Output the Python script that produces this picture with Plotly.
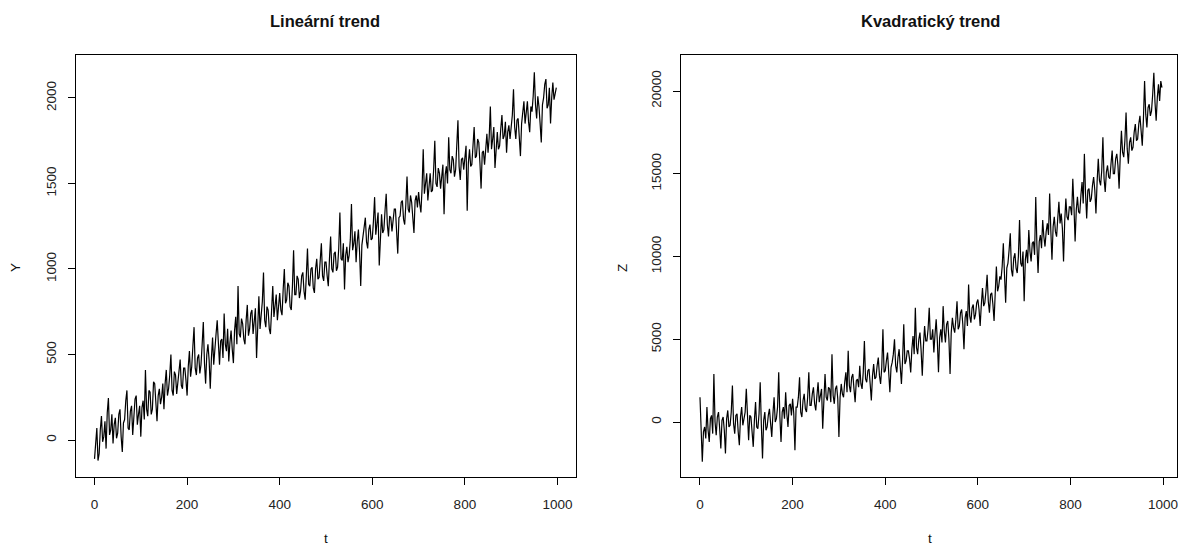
import plotly.graph_objects as go

# time index, step 2.5 over 0..997.5 (400 readings per series)
t = [i * 2.5 for i in range(400)]

# Linear trend series
Y = [
    -110, -40, 70, -120, -80, 60, 140, -10, 20, 110, -50, 160, 245, 30, 60, 150, -20, 90, 130, 10,
    40, 150, 180, 20, -70, 100, 120, 230, 290, 70, 60, 170, 200, 30, 110, 240, 260, 90, 150, 200,
    20, 190, 230, 120, 410, 180, 140, 290, 280, 150, 180, 340, 330, 200, 110, 260, 300, 210, 250, 330,
    180, 330, 410, 260, 300, 380, 500, 290, 260, 400, 380, 270, 340, 440, 470, 320, 300, 420, 420, 350,
    260, 430, 520, 370, 430, 550, 660, 420, 380, 480, 500, 390, 440, 560, 690, 450, 330, 500, 560, 470,
    300, 480, 600, 440, 510, 620, 700, 520, 440, 580, 590, 480, 740, 560, 520, 650, 460, 570, 640, 530,
    450, 640, 720, 560, 900, 620, 600, 710, 680, 590, 560, 700, 790, 610, 650, 740, 760, 620, 700, 770,
    480, 720, 840, 650, 720, 810, 980, 700, 660, 780, 760, 650, 620, 800, 900, 720, 770, 850, 700, 800,
    860, 760, 730, 880, 1000, 800, 820, 920, 900, 780, 760, 900, 1110, 850, 850, 960, 940, 830, 870, 960,
    980, 870, 820, 960, 1120, 910, 900, 1000, 1010, 890, 860, 1000, 1060, 940, 950, 1050, 1150, 960, 930, 1040,
    1040, 960, 900, 1060, 1190, 1000, 980, 1090, 1100, 990, 1010, 1120, 1330, 1060, 1050, 1150, 880, 1080, 1130, 1040,
    1080, 1170, 1380, 1110, 1150, 1220, 1040, 1160, 1230, 1100, 900, 1140, 1190, 1250, 1300, 1160, 1120, 1230, 1260, 1170,
    1180, 1280, 1420, 1200, 1250, 1330, 1020, 1240, 1320, 1210, 1230, 1340, 1440, 1260, 1190, 1310, 1300, 1220, 1270, 1350,
    1350, 1250, 1090, 1300, 1310, 1390, 1400, 1290, 1260, 1380, 1540, 1350, 1330, 1430, 1390, 1300, 1210, 1400, 1430, 1360,
    1450, 1380, 1330, 1470, 1700, 1440, 1500, 1560, 1400, 1500, 1560, 1450, 1460, 1580, 1750, 1500, 1480, 1590, 1560, 1470,
    1530, 1610, 1320, 1550, 1600, 1500, 1770, 1580, 1560, 1660, 1640, 1540, 1580, 1700, 1870, 1600, 1520, 1640, 1650, 1580,
    1640, 1720, 1340, 1620, 1700, 1600, 1610, 1730, 1830, 1650, 1660, 1760, 1740, 1620, 1470, 1680, 1690, 1610, 1720, 1790,
    1680, 1770, 1950, 1700, 1760, 1830, 1590, 1740, 1800, 1700, 1720, 1820, 1900, 1760, 1780, 1860, 1680, 1800, 1840, 1760,
    1820, 1900, 2050, 1830, 1760, 1870, 1880, 1790, 1660, 1850, 1900, 1980, 1850, 1930, 1980, 1860, 1800, 1950, 1920, 2010,
    2150, 1960, 1880, 2010, 1950, 1850, 1740, 1960, 2000, 2080, 2110, 1940, 1960, 2060, 1850, 2000, 2090, 1990, 2040, 2060,
]

# Quadratic trend series
Z = [
    1500, -900, -2400, -600, -300, -1000, 900, -500, -1200, 200, 400, -700, 2900, 0, -800, 300, 600, -400, -1600, 100,
    300, -500, -1900, 200, 700, -300, -200, 600, 2200, -100, -700, 400, 500, -600, -1400, 300, 900, -200, 100, 600,
    2000, 200, -1100, 400, 300, -600, -1500, 100, 1200, -300, -400, 500, 2400, -200, -2200, 100, 600, -500, -300, 400,
    800, -100, -900, 500, 1500, 0, 200, 900, 3000, 300, -1200, 600, 900, 200, 1800, 500, -300, 1000, 1100, 400,
    1400, 500, -1700, 900, 900, 1500, 2700, 600, 300, 1300, 1700, 800, 600, 1500, 3000, 1000, 1000, 1700, 2100, 1100,
    700, 1600, 2400, 1200, 1600, 2000, -400, 1300, 2900, 1500, 1300, 2100, 2000, 1200, 4100, 1600, 1100, 2000, 2200, 1400,
    -900, 1500, 2300, 1700, 1500, 2400, 3000, 1800, 4300, 2200, 1800, 2700, 2900, 2000, 1200, 2500, 2600, 2100, 3400, 2300,
    2000, 3000, 4900, 2600, 2400, 3100, 3200, 2300, 1300, 2800, 3500, 2600, 2700, 3400, 3900, 2800, 2300, 3300, 5600, 3000,
    3100, 3700, 4200, 3000, 1800, 3300, 3600, 4100, 5000, 3400, 3000, 3900, 4400, 3300, 2300, 3800, 5900, 3500, 3700, 4300,
    4300, 3800, 3000, 4400, 5200, 4100, 6900, 4500, 4100, 5000, 5400, 4300, 2800, 4600, 5800, 4900, 4900, 5600, 6900, 5000,
    5000, 5600, 4200, 5300, 6200, 4900, 3000, 5100, 5600, 4800, 7000, 5500, 4800, 5900, 6100, 5000, 2900, 5400, 6300, 5700,
    5400, 6200, 7300, 5600, 5800, 6600, 6800, 5900, 4400, 6300, 6700, 5800, 8300, 6400, 6000, 6900, 7100, 6200, 6500, 7200,
    7400, 6800, 5800, 7100, 8100, 7000, 7200, 7900, 8900, 7300, 6600, 7700, 7800, 7100, 6100, 7800, 9400, 7900, 8200, 8800,
    8600, 9400, 10800, 8900, 7200, 9300, 9600, 10400, 11400, 9200, 8800, 9900, 10200, 9300, 9000, 10000, 12200, 9600, 9400, 10300,
    7300, 9800, 10400, 9600, 11600, 10300, 9700, 10800, 10900, 10100, 13600, 10700, 9000, 10900, 11300, 10500, 12200, 11200, 10600, 11500,
    12000, 11300, 13800, 11600, 9800, 11800, 12400, 11500, 11200, 12300, 13300, 12000, 12600, 11700, 9700, 12100, 13500, 12400, 12200, 13000,
    13000, 12500, 14700, 13000, 10900, 12800, 13600, 12700, 12600, 13700, 14500, 13200, 16200, 13800, 12300, 14000, 14100, 13300, 13500, 14300,
    14800, 14000, 12600, 14500, 15900, 14600, 14300, 15200, 17200, 14700, 13900, 15100, 15500, 14800, 14700, 15600, 16400, 15000, 15000, 15900,
    16200, 15500, 14100, 16100, 17600, 16300, 16000, 17000, 18700, 16500, 15600, 16900, 17200, 16400, 16600, 17500, 18000, 17000, 17100, 18000,
    18500, 17600, 16700, 18300, 20600, 18600, 17800, 19000, 19200, 18500, 18800, 19800, 21100, 19300, 18200, 19600, 20400, 19400, 20600, 20200,
]

x_ticks = [0, 200, 400, 600, 800, 1000]
y_ticks = [0, 500, 1000, 1500, 2000]
z_ticks = [0, 5000, 10000, 15000, 20000]
z_tick_text = ["0", "5000", "10000", "15000", "20000"]

W, H = 1178, 545
FONT = "Liberation Sans, Arial, sans-serif"

fig = go.Figure()
fig.add_trace(go.Scatter(x=t[:len(Y)], y=Y, mode="lines", line=dict(color="black", width=1.2),
                         xaxis="x", yaxis="y", showlegend=False, hoverinfo="skip"))
fig.add_trace(go.Scatter(x=t[:len(Z)], y=Z, mode="lines", line=dict(color="black", width=1.2),
                         xaxis="x2", yaxis="y2", showlegend=False, hoverinfo="skip"))

def px(v):
    return v / W

def py(v):
    return 1 - v / H

axis_common = dict(showgrid=False, zeroline=False, showline=True, mirror=True,
                   linecolor="black", linewidth=1, ticks="outside", ticklen=7,
                   tickcolor="black", ticklabeloverflow="allow",
                   tickfont=dict(family=FONT, size=13.5, color="#222"))

fig.update_layout(
    width=W, height=H,
    margin=dict(l=0, r=0, t=0, b=0),
    paper_bgcolor="white", plot_bgcolor="white",
    xaxis=dict(domain=[px(76), px(576)], range=[-40, 1040], tickvals=x_ticks,
               anchor="y", ticklabelstandoff=8, **axis_common),
    yaxis=dict(domain=[py(477), py(55)], range=[-216, 2251], tickvals=y_ticks,
               anchor="x", tickangle=-90, ticklabelstandoff=7, **axis_common),
    xaxis2=dict(domain=[px(681), px(1177)], range=[-41, 1030], tickvals=x_ticks,
                anchor="y2", ticklabelstandoff=8, **axis_common),
    yaxis2=dict(domain=[py(477), py(55)], range=[-3323, 22175], tickvals=z_ticks,
                ticktext=z_tick_text, anchor="x2", tickangle=-90, ticklabelstandoff=7,
                **axis_common),
)

ann = [
    ("<b>Lineární trend</b>", 325, 21, 16.5, 0),
    ("<b>Kvadratický trend</b>", 930, 21, 16.5, 0),
    ("t", 326, 538, 13.5, 0),
    ("t", 930, 538, 13.5, 0),
    ("Y", 15, 268, 13.5, -90),
    ("Z", 622, 268, 13.5, -90),
]
for text, x, y, size, ang in ann:
    fig.add_annotation(text=text, x=px(x), y=py(y), xref="paper", yref="paper",
                       showarrow=False, textangle=ang, xanchor="center", yanchor="middle",
                       font=dict(family=FONT, size=size, color="#111"))

fig.write_html("out.html", config={"displayModeBar": False},
               post_script="document.body.style.margin='0';document.body.style.overflow='hidden';")
